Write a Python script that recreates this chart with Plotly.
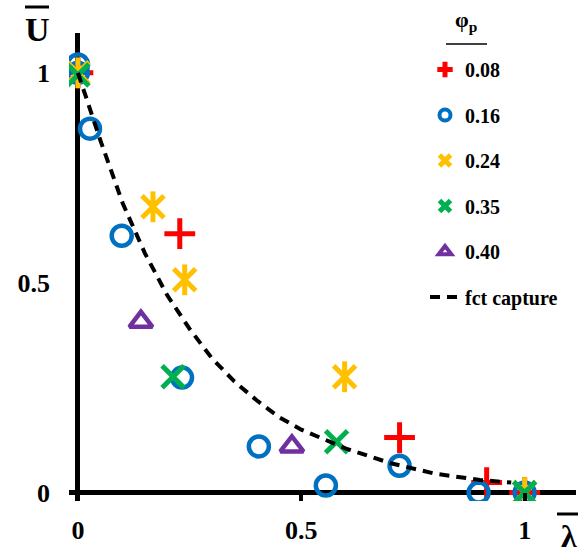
import plotly.graph_objects as go

# phi_p = 0.08
x008 = [0.0, 0.228, 0.72, 0.915, 1.0]
y008 = [1.0, 0.617, 0.131, 0.024, 0.0]
# phi_p = 0.16
x016 = [0.0, 0.0, 0.027, 0.098, 0.233, 0.405, 0.555, 0.72, 0.897, 1.0]
y016 = [1.02, 1.0, 0.867, 0.612, 0.274, 0.11, 0.017, 0.064, 0.0, 0.0]
# phi_p = 0.24
x024 = [0.0, 0.168, 0.239, 0.597, 1.0]
y024 = [1.0, 0.681, 0.507, 0.276, 0.0]
# phi_p = 0.35
x035 = [0.0, 0.213, 0.579, 1.0]
y035 = [0.995, 0.276, 0.121, 0.0]
# phi_p = 0.40
x040 = [0.141, 0.479]
y040 = [0.407, 0.11]
# fct capture
xfct = [0.0, 0.05, 0.1, 0.15, 0.2, 0.25, 0.3, 0.35, 0.4, 0.45, 0.5, 0.6, 0.7, 0.8, 0.9, 0.97]
yfct = [1.0, 0.84, 0.69, 0.57, 0.47, 0.39, 0.32, 0.265, 0.22, 0.18, 0.15, 0.105, 0.07, 0.045, 0.03, 0.024]

xticks = [0, 0.5, 1]
yticks = [0, 0.5, 1]

serif = "Liberation Serif"
L, R, T, B = 69, 4, 33, 53
W, H = 580, 554
pw, ph = W - L - R, H - T - B

fig = go.Figure()


def add_markers(x, y, name, symbol, color, size=22, width=5, extra=None):
    # data trace (no legend entry) + a small legend-only entry like the original
    fig.add_trace(go.Scatter(
        x=x, y=y, mode="markers", name=name, legendgroup=name, showlegend=False,
        marker=dict(symbol=symbol, size=size, color=color,
                    line=dict(color=color, width=width))))
    if extra:
        fig.add_trace(go.Scatter(
            x=x, y=y, mode="markers", name=name, legendgroup=name, showlegend=False,
            marker=dict(symbol=extra, size=size, color=color,
                        line=dict(color=color, width=width))))
    fig.add_trace(go.Scatter(
        x=[None], y=[None], mode="markers", name=name, legendgroup=name,
        marker=dict(symbol=symbol, size=11, color=color,
                    line=dict(color=color, width=5 if "thin" in symbol else 4))))


add_markers(x008, y008, "0.08", "cross-thin", "#FF0000")
add_markers(x016, y016, "0.16", "circle-open", "#0070C0", size=20, width=4.5)
add_markers(x024, y024, "0.24", "x-thin", "#FFC000", extra="line-ns")
add_markers(x035, y035, "0.35", "x-thin", "#00B050")
add_markers(x040, y040, "0.40", "triangle-up-open", "#7030A0", size=20, width=4.5)

fig.add_trace(go.Scatter(
    x=xfct, y=yfct, mode="lines", name="fct capture", legendgroup="fct",
    line=dict(color="black", width=4, dash="10px,7px")))


def px_text(text, x, y, size):
    fig.add_annotation(text=text, xref="paper", yref="paper",
                       x=(x - L) / pw, y=(H - B - y) / ph,
                       xanchor="center", yanchor="middle",
                       showarrow=False, font=dict(family=serif, size=size))


def px_line(x0, y0, x1, y1, w):
    fig.add_shape(type="line", xref="paper", yref="paper",
                  x0=(x0 - L) / pw, x1=(x1 - L) / pw,
                  y0=(H - B - y0) / ph, y1=(H - B - y1) / ph,
                  line=dict(color="black", width=w))


px_text("<b>φ<sub>p</sub></b>", 466, 21, 22)
px_text("<b>U</b>", 37, 29, 34)
px_text("<b>λ</b>", 569, 536, 32)
px_line(446, 44, 487, 44, 1.5)   # under legend title
px_line(25, 7, 49, 7, 3)         # bar over U
px_line(557, 514, 578, 514, 3)   # bar over lambda

fig.update_layout(
    width=W, height=H,
    margin=dict(l=L, r=R, t=T, b=B),
    plot_bgcolor="white", paper_bgcolor="white",
    font=dict(family=serif, color="black"),
    showlegend=True,
    legend=dict(x=(425 - L) / pw, y=(H - B - 50) / ph, xanchor="left", yanchor="top",
                font=dict(family=serif, size=20, weight="bold"),
                tracegroupgap=16.5, bgcolor="rgba(0,0,0,0)"),
)

fig.update_xaxes(range=[-0.02, 1.115], showgrid=False, zeroline=True,
                 zerolinecolor="black", zerolinewidth=5, showline=False,
                 tickvals=xticks, ticktext=["0", "0.5", "1"],
                 ticks="inside", ticklen=8, tickwidth=4, tickcolor="black",
                 ticklabelstandoff=11, automargin=False,
                 tickfont=dict(family=serif, size=26, weight="bold"))
fig.update_yaxes(range=[-0.02, 1.095], showgrid=False, zeroline=True,
                 zerolinecolor="black", zerolinewidth=5, showline=False,
                 tickvals=yticks, ticktext=["0", "0.5", "1"], ticks="",
                 ticklabelstandoff=18, automargin=False,
                 tickfont=dict(family=serif, size=26, weight="bold"))

# the page body has a default 8px margin; drop it so the figure fills the window
fig.write_html("out.html", config={"displayModeBar": False},
               post_script="document.body.style.margin='0px';")
